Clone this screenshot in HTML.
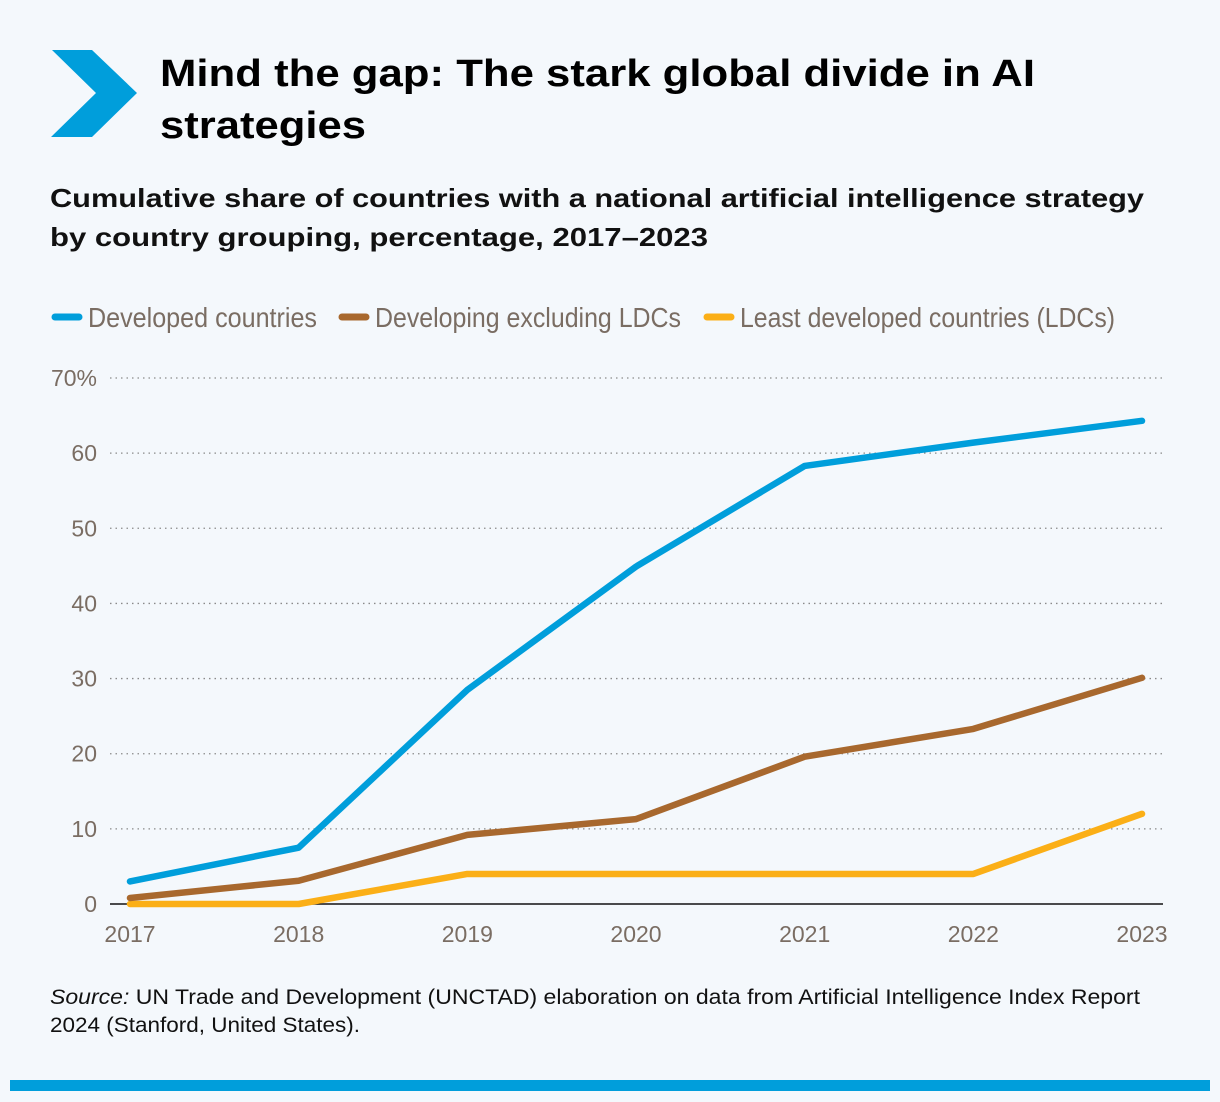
<!DOCTYPE html>
<html><head><meta charset="utf-8"><style>
body{margin:0;background:#f4f8fc;}
svg{display:block;font-family:"Liberation Sans",sans-serif;}
</style></head><body>
<svg width="1220" height="1102" viewBox="0 0 1220 1102">
<rect width="1220" height="1102" fill="#f4f8fc"/>
<polygon points="52,50 92,50 137,93 92,137 51,137 96,93" fill="#009edb"/>
<text x="160" y="86" font-size="38" font-weight="bold" fill="#000" textLength="875" lengthAdjust="spacingAndGlyphs">Mind the gap: The stark global divide in AI</text>
<text x="160" y="138" font-size="38" font-weight="bold" fill="#000" textLength="206" lengthAdjust="spacingAndGlyphs">strategies</text>
<text x="50" y="207" font-size="26" font-weight="bold" fill="#111" textLength="1094" lengthAdjust="spacingAndGlyphs">Cumulative share of countries with a national artificial intelligence strategy</text>
<text x="50" y="246" font-size="26" font-weight="bold" fill="#111" textLength="658" lengthAdjust="spacingAndGlyphs">by country grouping, percentage, 2017–2023</text>
<g>
<line x1="55" y1="317" x2="79" y2="317" stroke="#009edb" stroke-width="7" stroke-linecap="round"/>
<text x="88" y="327" font-size="28" fill="#7a6d63" textLength="229" lengthAdjust="spacingAndGlyphs">Developed countries</text>
<line x1="342" y1="317" x2="366" y2="317" stroke="#a8682e" stroke-width="7" stroke-linecap="round"/>
<text x="375" y="327" font-size="28" fill="#7a6d63" textLength="306" lengthAdjust="spacingAndGlyphs">Developing excluding LDCs</text>
<line x1="707" y1="317" x2="731" y2="317" stroke="#fbaf17" stroke-width="7" stroke-linecap="round"/>
<text x="740" y="327" font-size="28" fill="#7a6d63" textLength="375" lengthAdjust="spacingAndGlyphs">Least developed countries (LDCs)</text>
</g>
<g id="plot"></g>
<text x="50" y="1004" font-size="21" fill="#111" textLength="1090" lengthAdjust="spacingAndGlyphs"><tspan font-style="italic">Source:</tspan> UN Trade and Development (UNCTAD) elaboration on data from Artificial Intelligence Index Report</text>
<text x="50" y="1032" font-size="21" fill="#111" textLength="310" lengthAdjust="spacingAndGlyphs">2024 (Stanford, United States).</text>
<rect x="10" y="1080" width="1200" height="11" fill="#009edb"/>
</svg>
<script>
const years=["2017","2018","2019","2020","2021","2022","2023"];
const developed=[3,7.5,28.5,44.9,58.3,61.4,64.3];
const developing=[0.8,3.1,9.2,11.3,19.6,23.3,30.1];
const ldc=[0,0,4,4,4,4,12];
const yTicks=[0,10,20,30,40,50,60,70];
const yTickLabels=["0","10","20","30","40","50","60","70%"];
const NS="http://www.w3.org/2000/svg";
const g=document.getElementById('plot');
const x0=130,x1=1142,yBase=904,yTop=378;
function xs(i){return x0+(x1-x0)*i/(years.length-1);}
function ys(v){return yBase-(yBase-yTop)*v/70;}
function mk(t,a){const e=document.createElementNS(NS,t);for(const k in a)e.setAttribute(k,a[k]);g.appendChild(e);return e;}
yTicks.forEach((v,i)=>{
 if(v>0){const l=mk('line',{x1:110,x2:1163,y1:ys(v),y2:ys(v),stroke:'#8a8a8a','stroke-width':1.3,'stroke-dasharray':'1.5 4'});
 
 }
 const t=mk('text',{x:97,y:ys(v)+8,'font-size':23,fill:'#7a6d63','text-anchor':'end'});
 
 
 t.textContent=yTickLabels[i];
});
const ax=mk('line',{x1:110,x2:1163,y1:yBase,y2:yBase,stroke:'#111','stroke-width':1.5});


years.forEach((y,i)=>{
 const t=mk('text',{x:xs(i),y:942,'font-size':23,fill:'#7a6d63','text-anchor':'middle'});
 
 
 t.textContent=y;
});
function line(arr,col,name){
 const p=mk('polyline',{points:arr.map((v,i)=>xs(i)+','+ys(v)).join(' '),fill:'none',stroke:col,'stroke-width':6.5,'stroke-linecap':'round','stroke-linejoin':'round'});
 
 
}
line(ldc,'#fbaf17','line-ldc');
line(developing,'#a8682e','line-developing');
line(developed,'#009edb','line-developed');
</script>
</body></html>
